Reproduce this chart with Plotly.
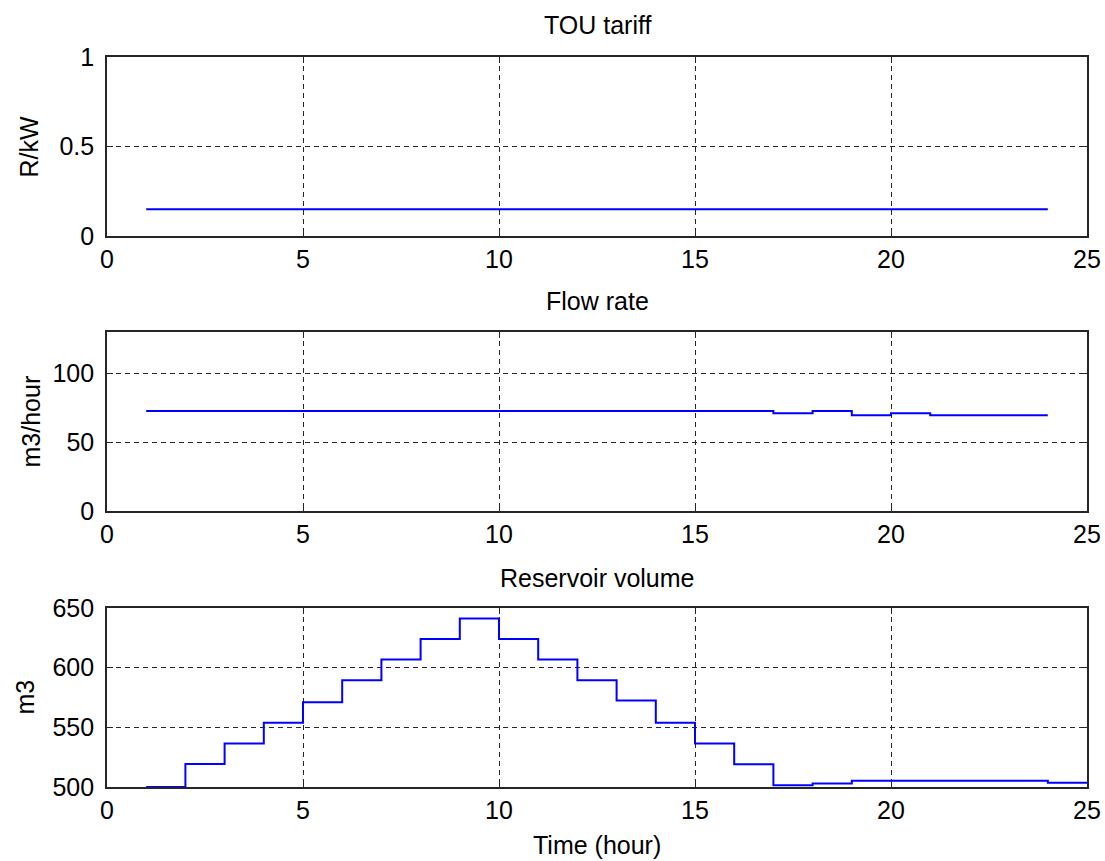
import plotly.graph_objects as go

W, H = 1105, 861

# ---- data ----
hours_tariff = list(range(1, 25))
tariff = [0.15] * 24

hours_flow = list(range(1, 25))
flow = [72.6] * 16 + [71.0, 72.6, 69.5, 71.0, 69.5, 69.5, 69.5, 69.5]

hours_vol = list(range(1, 26))
volume = [500, 519.2, 536.5, 553.8, 571.0, 589.5, 606.8, 624.0, 641.3, 624.0,
          606.8, 589.5, 572.5, 553.8, 536.5, 519.0, 501.5, 503.0, 505.3, 505.3,
          505.3, 505.3, 505.3, 503.6, 503.6]

x_ticks = [0, 5, 10, 15, 20, 25]

titles = ["TOU tariff", "Flow rate", "Reservoir volume"]
ylabels = ["R/kW", "m3/hour", "m3"]
xlabel = "Time (hour)"

# ---- layout geometry (pixels) ----
left, right = 107, 1087
panels = [(57, 236), (332, 511), (608, 787)]

def py(p):
    return 1 - p / H

fig = go.Figure()
FONT = "Liberation Sans, Arial, sans-serif"
FS = 25

series = [(hours_tariff, tariff), (hours_flow, flow), (hours_vol, volume)]
yranges = [[0, 1], [0, 130], [500, 650]]
yticks = [([0, 0.5, 1], ["0", "0.5", "1"]),
          ([0, 50, 100], ["0", "50", "100"]),
          ([500, 550, 600, 650], ["500", "550", "600", "650"])]

for i, ((xs, ys), (top, bot)) in enumerate(zip(series, panels)):
    n = "" if i == 0 else str(i + 1)
    fig.add_trace(go.Scatter(x=xs, y=ys, mode="lines", line=dict(color="#0000FF", width=2, shape="hv"),
                             xaxis="x" + n, yaxis="y" + n, showlegend=False))
    axcommon = dict(showline=True, mirror="ticks", linecolor="#262626", linewidth=1.6,
                    ticks="inside", ticklen=6, tickcolor="#262626", tickwidth=1.3,
                    showgrid=True, gridcolor="#262626", griddash="5px,4px", gridwidth=1.4,
                    zeroline=False, automargin=False,
                    tickfont=dict(family=FONT, size=FS, color="#000"))
    fig.layout["xaxis" + n] = dict(axcommon, domain=[left / W, right / W], range=[0, 25],
                                   tickvals=x_ticks, anchor="y" + n, ticklabelstandoff=0)
    fig.layout["yaxis" + n] = dict(axcommon, domain=[py(bot), py(top)], range=yranges[i],
                                   tickvals=yticks[i][0], ticktext=yticks[i][1], anchor="x" + n,
                                   ticklabelstandoff=6)

annots = []
title_y = [25, 301, 578]
ylab_x = [28, 30, 24]
for i in range(3):
    top, bot = panels[i]
    annots.append(dict(text=titles[i], x=(left + right) / 2 / W, y=py(title_y[i]), xref="paper", yref="paper",
                       showarrow=False, xanchor="center", yanchor="middle",
                       font=dict(family=FONT, size=FS, color="#000")))
    annots.append(dict(text=ylabels[i], x=ylab_x[i] / W, y=py((top + bot) / 2), xref="paper", yref="paper",
                       showarrow=False, xanchor="center", yanchor="middle", textangle=-90,
                       font=dict(family=FONT, size=FS, color="#000")))
annots.append(dict(text=xlabel, x=(left + right) / 2 / W, y=py(845), xref="paper", yref="paper",
                   showarrow=False, xanchor="center", yanchor="middle",
                   font=dict(family=FONT, size=FS, color="#000")))

fig.update_layout(width=W, height=H, margin=dict(l=0, r=0, t=0, b=0, autoexpand=False),
                  paper_bgcolor="white", plot_bgcolor="white", annotations=annots)

fig.write_html("out.html", config={"displayModeBar": False},
               post_script="document.body.style.margin='0px';document.body.style.overflow='hidden';")
